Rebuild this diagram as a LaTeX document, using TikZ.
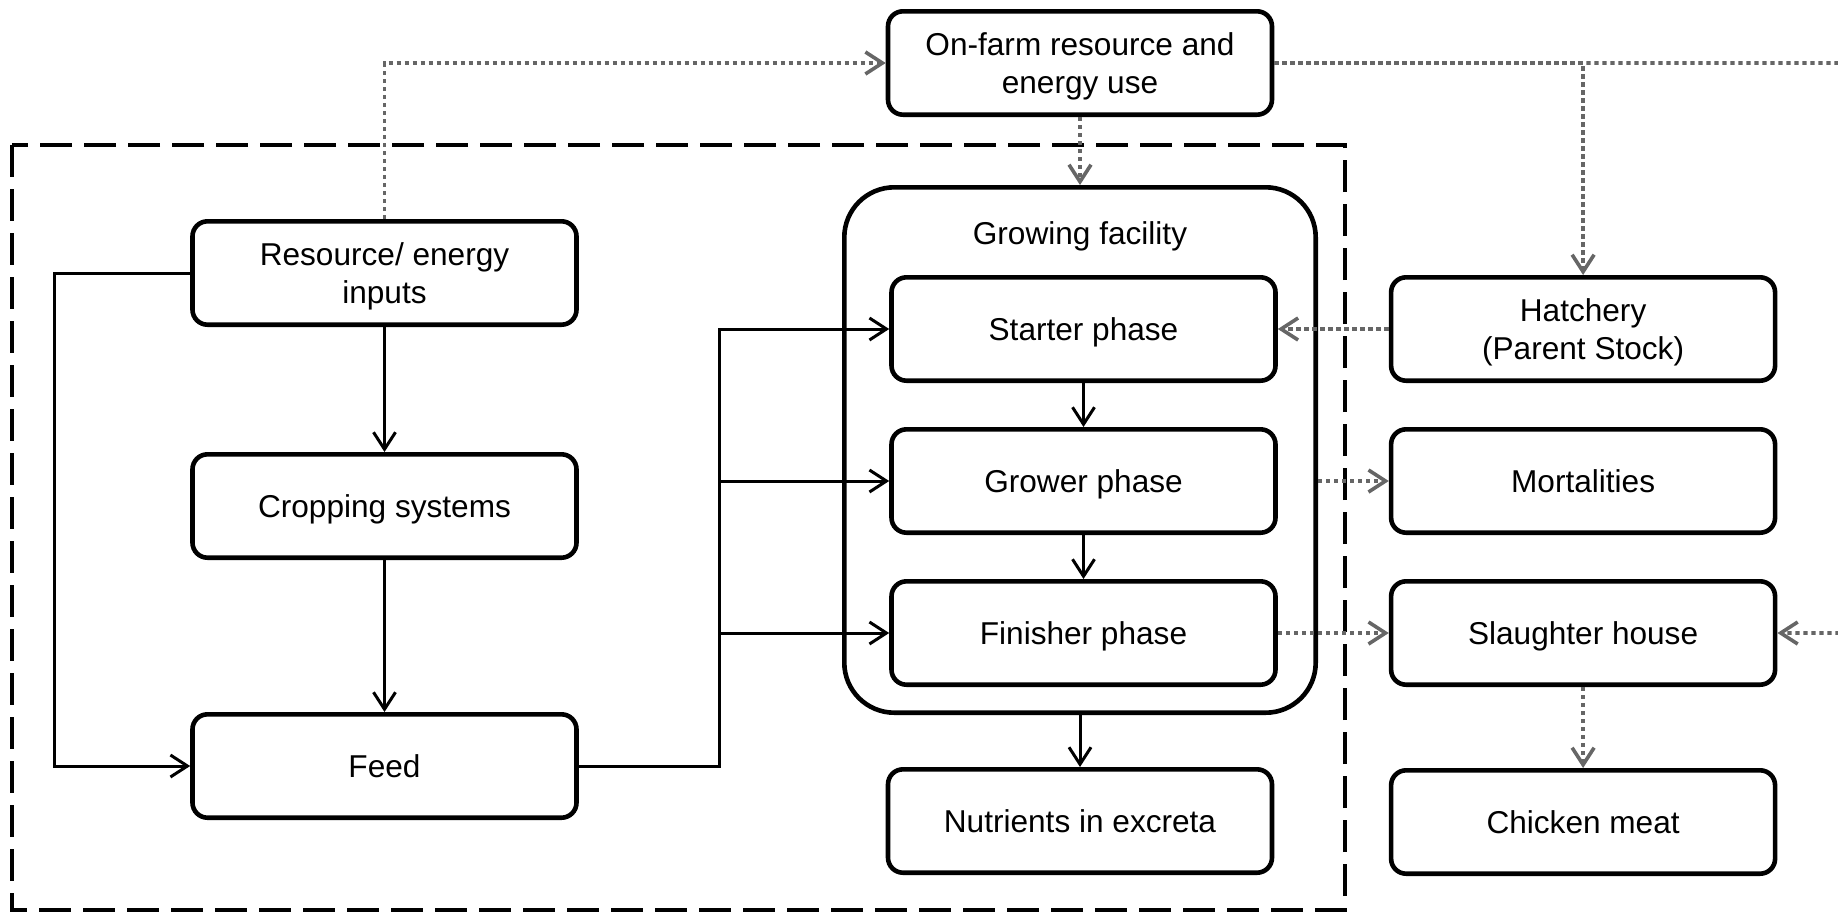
\documentclass[tikz,border=0pt]{standalone}
\usepackage{fontspec}
\setmainfont{Liberation Sans}
\usetikzlibrary{positioning, arrows.meta}
\tikzset{
  >={Straight Barb[length=8.5pt, width=11pt]},
  box/.style={draw, line width=2.3pt, rounded corners=7.5pt, minimum width=192pt,
    minimum height=51.7pt, align=center, inner sep=2pt, text depth=0pt},
  facility/.style={draw, line width=2.3pt, rounded corners=25pt, minimum width=235.7pt,
    minimum height=262.7pt},
  link/.style={line width=1.5pt},
  linkarrow/.style={link, ->},
  flow/.style={line width=1.8pt, black!60, dash pattern=on 2.2pt off 1.8pt, ->},
  boundary/.style={line width=1.8pt, dash pattern=on 16pt off 6pt},
}

\begin{document}
\begin{tikzpicture}[x=0.5pt, y=-0.5pt, font=\fontsize{15.8pt}{18.8pt}\selectfont]
  \useasboundingbox (0,0) rectangle (1838,912);

  % system boundary
  \draw[boundary] (12,145) rectangle (1345,910);

  % growing facility
  \node[facility] (fac) at (1080,450) {};
  \node[text depth=0pt] (faclabel) at (1080,233) {Growing facility};
  \node[box] (starter) at (1083.5,329) {Starter phase};
  \node[box, below=22pt of starter] (grower) {Grower phase};
  \node[box, below=22pt of grower] (finisher) {Finisher phase};
  \node[box, below=26pt of fac] (nutr) {Nutrients in excreta};
  \node[box, above=34pt of fac] (onfarm) {On-farm resource and\\energy use};

  % feed supply
  \node[box] (res) at (384.5,273) {Resource/ energy\\inputs};
  \node[box, below=62.5pt of res] (crop) {Cropping systems};
  \node[box, below=76pt of crop] (feed) {Feed};

  % outside the boundary
  \node[box, right=55.5pt of starter] (hatch) {Hatchery\\(Parent Stock)};
  \node[box, right=55.5pt of grower] (mort) {Mortalities};
  \node[box, right=55.5pt of finisher] (slaugh) {Slaughter house};
  \node[box, below=40.5pt of slaugh] (meat) {Chicken meat};

  \coordinate (farright) at (1840,63);

  % material flows
  \draw[linkarrow] (res) -- (crop);
  \draw[linkarrow] (crop) -- (feed);
  \draw[linkarrow] (res.west) -- ++(-68pt,0) |- (feed.west);
  \foreach \p in {starter, grower, finisher}
    \draw[linkarrow] (feed.east) -- ++(70.5pt,0) |- (\p.west);
  \draw[linkarrow] (starter) -- (grower);
  \draw[linkarrow] (grower) -- (finisher);
  \draw[linkarrow] (fac) -- (nutr);

  % resource and energy flows
  \draw[flow] (res.north) |- (onfarm.west);
  \draw[flow] (onfarm) -- (fac);
  \draw[flow] (onfarm.east) -| (hatch.north);
  \draw[flow] (onfarm.east) -- (farright) |- (slaugh.east);
  \draw[flow] (hatch) -- (starter);
  \draw[flow] (grower.east -| fac.east) -- (mort.west);
  \draw[flow] (finisher) -- (slaugh);
  \draw[flow] (slaugh) -- (meat);
\end{tikzpicture}
\end{document}
